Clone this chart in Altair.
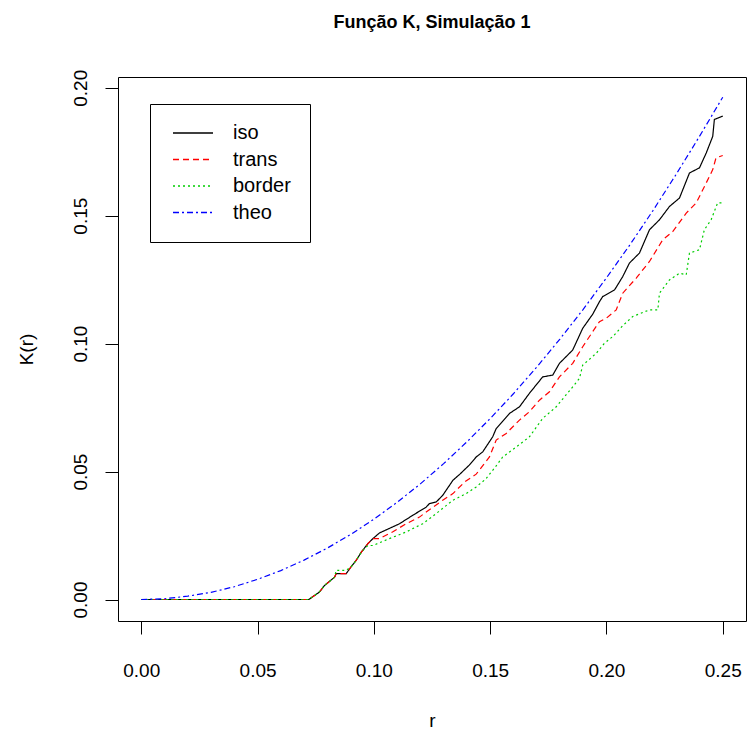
import altair as alt
import pandas as pd

# ---- data ----
r_iso = [0, 0.072, 0.0766, 0.0788, 0.0831, 0.0838, 0.0881, 0.0903, 0.0924, 0.0946, 0.0974, 0.0996,
         0.1024, 0.111, 0.1167, 0.1225, 0.1239, 0.1268, 0.1296, 0.134, 0.137, 0.141, 0.144, 0.1468,
         0.1511, 0.1526, 0.1583, 0.1626, 0.1669, 0.1726, 0.1769, 0.1798, 0.1855, 0.1898, 0.1941,
         0.197, 0.1984, 0.2035, 0.207, 0.2099, 0.2142, 0.2185, 0.2228, 0.2271, 0.2314, 0.2357, 0.24,
         0.2429, 0.2457, 0.2464, 0.25]
k_iso = [0, 0, 0.0029, 0.0055, 0.0087, 0.0101, 0.0101, 0.0129, 0.0153, 0.0185, 0.0218, 0.0238,
         0.026, 0.0296, 0.0329, 0.0361, 0.0375, 0.0381, 0.0407, 0.0466, 0.049, 0.0525, 0.0557, 0.0577,
         0.0636, 0.0668, 0.0727, 0.0753, 0.0806, 0.087, 0.0877, 0.0923, 0.0975, 0.106, 0.1115,
         0.1164, 0.1184, 0.121, 0.1262, 0.1315, 0.1354, 0.1445, 0.1484, 0.1536, 0.1569, 0.1667, 0.1687,
         0.1745, 0.181, 0.1876, 0.1889]

r_trans = [0, 0.072, 0.0766, 0.0788, 0.0831, 0.0838, 0.0881, 0.0903, 0.0924, 0.0946, 0.0974, 0.0996,
           0.1024, 0.108, 0.1139, 0.1196, 0.1225, 0.1296, 0.134, 0.139, 0.144, 0.147, 0.1497, 0.1526,
           0.1569, 0.1626, 0.1669, 0.1712, 0.1755, 0.1798, 0.1855, 0.1898, 0.1941, 0.197, 0.1999,
           0.2042, 0.207, 0.2128, 0.2185, 0.2242, 0.2285, 0.2343, 0.2386, 0.2429, 0.2457, 0.2471, 0.25]
k_trans = [0, 0, 0.0029, 0.0055, 0.0087, 0.0101, 0.0101, 0.0129, 0.0153, 0.0185, 0.0218, 0.0238,
           0.0238, 0.0264, 0.0296, 0.0322, 0.0342, 0.0388, 0.0414, 0.0459, 0.049, 0.0525, 0.0557, 0.0623,
           0.0649, 0.0701, 0.0734, 0.0779, 0.0812, 0.087, 0.0923, 0.0988, 0.1047, 0.1086, 0.1099,
           0.1132, 0.1197, 0.1256, 0.1321, 0.1406, 0.1438, 0.151, 0.155, 0.1628, 0.168, 0.1726, 0.1735]

r_border = [0, 0.072, 0.0766, 0.0788, 0.0831, 0.0838, 0.0881, 0.0903, 0.0924, 0.0946, 0.0974, 0.0996,
            0.1067, 0.1139, 0.1167, 0.121, 0.1268, 0.134, 0.1397, 0.144, 0.148, 0.152, 0.1554, 0.1612,
            0.1669, 0.1726, 0.1784, 0.1855, 0.1884, 0.1898, 0.1956, 0.199, 0.203, 0.207, 0.2113,
            0.2185, 0.2221, 0.2228, 0.2271, 0.2314, 0.2343, 0.2357, 0.24, 0.2421, 0.245, 0.2478, 0.25]
k_border = [0, 0, 0.0029, 0.0055, 0.0087, 0.0114, 0.0114, 0.0129, 0.0153, 0.0185, 0.0211, 0.0211,
            0.0238, 0.0264, 0.0277, 0.0296, 0.0336, 0.0388, 0.0414, 0.044, 0.047, 0.0515, 0.0557, 0.0596,
            0.0636, 0.0708, 0.0753, 0.0831, 0.0864, 0.0916, 0.0962, 0.1, 0.103, 0.107, 0.1106,
            0.1132, 0.1132, 0.1197, 0.1249, 0.1275, 0.1269, 0.1354, 0.1367, 0.1445, 0.1484, 0.155, 0.155]

r_theo = [0, 0.01, 0.02, 0.03, 0.04, 0.05, 0.06, 0.07, 0.08, 0.09, 0.10, 0.11, 0.12, 0.13,
          0.14, 0.15, 0.16, 0.17, 0.18, 0.19, 0.20, 0.21, 0.22, 0.23, 0.24, 0.25]
k_theo = [0, 0.0003, 0.0013, 0.0028, 0.005, 0.0079, 0.0113, 0.0154, 0.0201, 0.0254, 0.0314,
          0.038, 0.0452, 0.0531, 0.0616, 0.0707, 0.0804, 0.0908, 0.1018, 0.1134, 0.1257, 0.1385,
          0.152, 0.1662, 0.181, 0.1963]

series_names = ["iso", "trans", "border", "theo"]
series_colors = ["#000000", "#FF0000", "#00CD00", "#0000FF"]
series_dashes = [[1, 0], [6, 4], [2, 3], [6, 3, 2, 3]]

x_ticks = [0.00, 0.05, 0.10, 0.15, 0.20, 0.25]
y_ticks = [0.00, 0.05, 0.10, 0.15, 0.20]

frames = []
for name, rs, ks in [("iso", r_iso, k_iso), ("trans", r_trans, k_trans),
                     ("border", r_border, k_border), ("theo", r_theo, k_theo)]:
    frames.append(pd.DataFrame({"r": rs, "K": ks, "series": name}))
df = pd.concat(frames, ignore_index=True)

FONT = "Liberation Sans"

legend = alt.Legend(
    orient="none", legendX=32, legendY=27, title=None,
    symbolType="M-4,0H4", symbolSize=100, symbolStrokeWidth=1.3,
    symbolOffset=14, labelOffset=30, padding=19, rowPadding=6.5,
    strokeColor="black", fillColor="white", cornerRadius=0,
    labelFont=FONT, labelFontSize=20, labelColor="black",
)

chart = alt.Chart(df).mark_line(strokeWidth=1.2).encode(
    x=alt.X("r:Q",
            scale=alt.Scale(domain=[-0.01, 0.26], nice=False, zero=False),
            axis=alt.Axis(values=x_ticks, format=".2f", title="r",
                          labelPadding=27, titlePadding=31,
                          labelFlush=False, labelOverlap=False)),
    y=alt.Y("K:Q",
            scale=alt.Scale(domain=[-0.0084, 0.2042], nice=False, zero=False),
            axis=alt.Axis(values=y_ticks, format=".2f", title="K(r)",
                          labelAngle=270, labelAlign="center", labelBaseline="bottom",
                          labelPadding=15, titlePadding=35,
                          labelFlush=False, labelOverlap=False)),
    color=alt.Color("series:N",
                    scale=alt.Scale(domain=series_names, range=series_colors),
                    legend=legend),
    strokeDash=alt.StrokeDash("series:N",
                              scale=alt.Scale(domain=series_names, range=series_dashes)),
).properties(
    width=628, height=544,
    title=alt.TitleParams("Função K, Simulação 1", font=FONT, fontSize=18,
                          fontWeight="bold", anchor="middle", frame="group",
                          baseline="alphabetic", offset=23, color="black"),
    padding={"left": 118, "top": 77, "right": 1, "bottom": 109},
    autosize=alt.AutoSizeParams(type="none"),
    background="white",
).configure_view(
    stroke="black", strokeWidth=1
).configure_axis(
    domain=False, grid=False, tickColor="black", tickSize=13, tickWidth=1,
    labelFont=FONT, labelFontSize=19, labelColor="black",
    titleFont=FONT, titleFontSize=19, titleFontWeight="normal", titleColor="black",
)

chart.save("out.html", embed_options={"renderer": "svg", "actions": False})
